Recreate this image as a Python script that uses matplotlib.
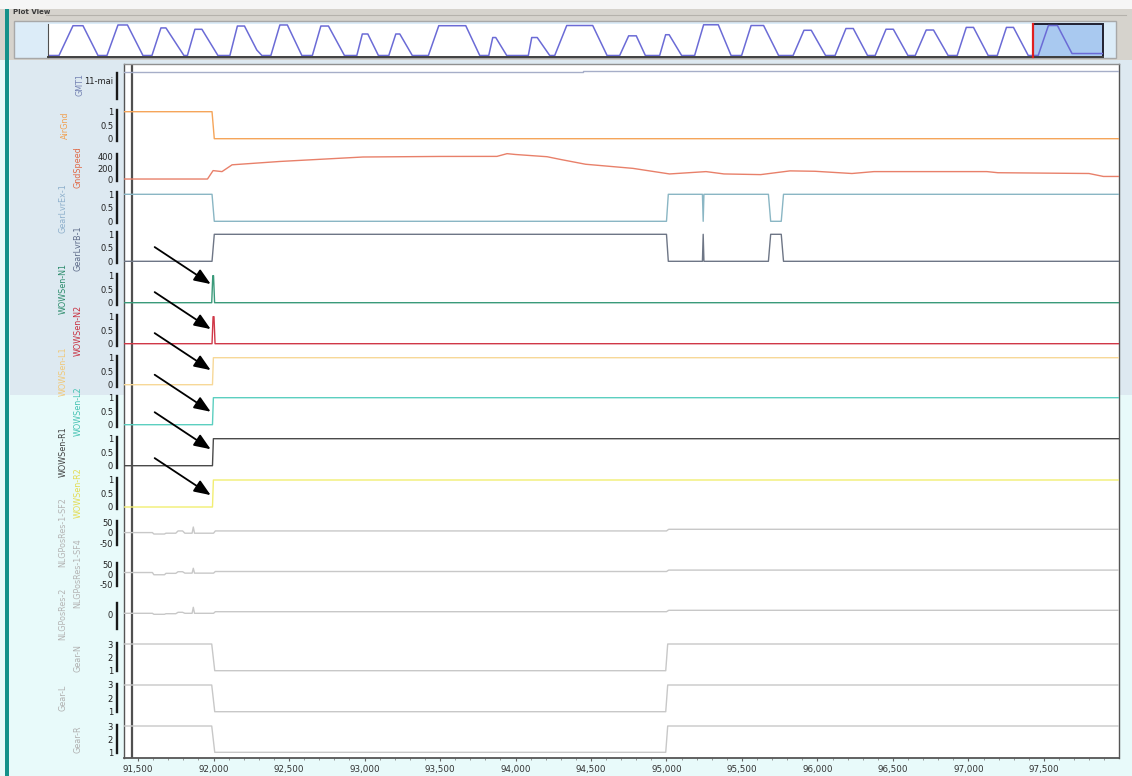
import matplotlib
matplotlib.use("Agg")
import matplotlib.pyplot as plt
from matplotlib.patches import Rectangle
from matplotlib.ticker import MultipleLocator, FuncFormatter

plt.rcParams['font.family'] = ['DejaVu Sans']

W, H, DPI = 1132, 776, 100

# ---------------- data ----------------
# visible time window
t_window = [91407, 97997]
x_ticks = [91500, 92000, 92500, 93000, 93500, 94000, 94500, 95000,
           95500, 96000, 96500, 97000, 97500]
cursor_t = 91458

# overview of the whole recording (ground speed)
overview_t = [
    -1279,
    -244, 1073, 2013, 3424,
    4270, 5305, 6198, 7656,
    8503, 9349, 9819, 11512,
    11841, 12547, 13205, 14710,
    15838, 16543, 17211, 18370, 18848,
    19694, 20541, 21246, 22610,
    23598, 24398, 25112, 26617,
    27783, 28300, 28817, 29814,
    30792, 31451, 31827, 33003,
    34517, 35495, 38034, 39351,
    40197, 40574, 40856, 41890,
    43921, 44242, 44759, 45935,
    46405, 47535, 49980, 51332,
    52518, 53364, 54079, 54935,
    56280, 56844, 57173, 58349,
    59570, 60417, 61799, 63003,
    63992, 64885, 66061, 67472,
    68836, 69861, 70548, 71893,
    72786, 73812, 74498, 75843,
    76558, 77583, 78269, 79642,
    80329, 81363, 82050, 83423,
    84279, 85135, 85812, 87195,
    88050, 88915, 89574, 90966,
    91900, 92865, 93711, 95084,
    98000,
]
overview_v = [
    0,
    0, 456, 456, 0,
    0, 467, 467, 0,
    0, 422, 422, 0,
    0, 401, 401, 0,
    0, 451, 451, 84, 0,
    0, 467, 467, 0,
    0, 451, 451, 0,
    0, 329, 329, 0,
    0, 329, 329, 0,
    0, 456, 456, 0,
    0, 275, 275, 0,
    0, 275, 275, 0,
    0, 459, 459, 0,
    0, 301, 301, 0,
    0, 318, 318, 0,
    0, 470, 470, 0,
    0, 459, 459, 0,
    0, 386, 386, 0,
    0, 413, 413, 0,
    0, 402, 402, 0,
    0, 390, 390, 0,
    0, 430, 430, 0,
    0, 430, 430, 0,
    0, 459, 459, 30,
    30,
]

gmt_t = [91400, 94450, 94450, 98000]
gmt_v = [11.45, 11.45, 11.52, 11.52]

airgnd_t = [91400, 91990, 92005, 98000]
airgnd_v = [1, 1, 0, 0]

gndspeed_t = [91400, 91960, 91997, 92056, 92123, 92440, 92990, 93500, 93877,
              93944, 94000, 94209, 94300, 94464, 94778, 95020, 95262, 95381,
              95624, 95818, 95983, 96228, 96374, 97122, 97195, 97798, 97894,
              98000]
gndspeed_v = [5, 5, 156, 138, 260, 320, 400, 410, 411,
              460, 445, 405, 355, 270, 196, 96, 138, 96,
              84, 151, 144, 104, 138, 138, 118, 104, 51,
              51]

lever_t = [91400, 91990, 92005, 95000, 95012, 95238, 95243, 95248,
           95675, 95690, 95760, 95775, 98000]
lever_ex_v = [1, 1, 0, 0, 1, 1, 0, 1, 1, 0, 0, 1, 1]
lever_b_v = [0, 0, 1, 1, 0, 0, 1, 0, 0, 1, 1, 0, 0]

wow_n1_t = [91400, 91988, 91995, 92000, 92007, 98000]
wow_n1_v = [0, 0, 1, 1, 0, 0]
wow_n2_t = [91400, 91990, 91997, 92003, 92010, 98000]
wow_n2_v = [0, 0, 1, 1, 0, 0]
wow_step_t = [91400, 91993, 91999, 98000]
wow_step_v = [0, 0, 1, 1]

nlg_t = [91400, 91595, 91605, 91675, 91685, 91750, 91765, 91795, 91810,
         91858, 91866, 91874, 92000, 92012, 95000, 95015, 98000]
nlg_sf2_v = [2, 2, -5, -5, -1, -1, 10, 10, -1, -1, 29, -1, -1, 10, 10, 18, 18]
nlg_sf4_v = [8, 8, -3, -3, 4, 4, 12, 12, 5, 5, 29, 5, 5, 13, 13, 20, 20]
nlg_res2_v = [5, 5, 0, 0, 3, 3, 10, 10, 5, 5, 35, 5, 5, 13, 13, 20, 20]

gear_t = [91400, 91988, 92008, 94995, 95008, 98000]
gear_v = [3, 3, 1, 1, 3, 3]

# arrows pointing at the touchdown transitions: (track, value at tip)
arrow_time = 91981
arrow_tracks = ['WOWSen-N1', 'WOWSen-N2', 'WOWSen-L1', 'WOWSen-L2',
                'WOWSen-R1', 'WOWSen-R2']
arrow_levels = [0.69, 0.54, 0.54, 0.48, 0.61, 0.44]

# ---------------- helpers ----------------
def fx(px):
    return px / W


def fy(py):
    return 1 - py / H


def rect(x0, y0, x1, y1):
    return [x0 / W, 1 - y1 / H, (x1 - x0) / W, (y1 - y0) / H]


def bg(x0, y0, x1, y1, color, z=-10, **kw):
    fig.add_artist(Rectangle((fx(x0), fy(y1)), (x1 - x0) / W, (y1 - y0) / H,
                             transform=fig.transFigure, facecolor=color,
                             zorder=z, **kw))


fig = plt.figure(figsize=(W / DPI, H / DPI), dpi=DPI, facecolor='#e8fafa')

# window chrome
bg(0, 0, W, 9, '#f6f6f6')
bg(0, 9, W, 60, '#d6d3cd')
bg(10, 60, W, 395, '#dde9f1')
bg(10, 395, W, H, '#e8fafa')
bg(5, 9, 9, H, '#14918a', z=-5)
bg(14, 21, 1116, 58, '#dcecf8', z=-8, edgecolor='#a8a8a8', linewidth=1)
fig.add_artist(plt.Line2D([fx(46), fx(1126)], [fy(15), fy(15)],
                          transform=fig.transFigure, color='#b5b2ac', lw=0.8,
                          zorder=-7))
fig.text(fx(13), fy(12), 'Plot View', fontsize=5, fontweight='bold',
         color='#3a3a3a', va='center', ha='left')

# ---------------- overview strip ----------------
ax_ov = fig.add_axes(rect(48, 24, 1103, 57))
ax_ov.set_facecolor('white')
ax_ov.set_xlim(-1279, 98000)
ax_ov.set_ylim(-23, 482)
ax_ov.set_xticks([])
ax_ov.set_yticks([])
for s in ['top', 'right']:
    ax_ov.spines[s].set_visible(False)
ax_ov.spines['left'].set_color('#505050')
ax_ov.spines['bottom'].set_color('#404040')
ax_ov.spines['bottom'].set_linewidth(1.4)
ax_ov.add_patch(Rectangle((t_window[0], -23), t_window[1] - t_window[0], 505,
                          facecolor='#a9c9f0', edgecolor='#202030', lw=1.4,
                          zorder=1, clip_on=False))
ax_ov.plot([t_window[0], t_window[0]], [-23, 482], color='#e02020', lw=1.6,
           zorder=3, clip_on=False)
ax_ov.plot(overview_t, overview_v, color='#6b6bd6', lw=1.1, zorder=2)

# ---------------- main plot frame ----------------
PX0, PX1, PY0, PY1 = 124, 1119, 64, 758
ax = fig.add_axes(rect(PX0, PY0, PX1, PY1))
ax.set_facecolor('white')
ax.set_xlim(*t_window)
ax.set_ylim(0, 1)
ax.set_yticks([])
ax.set_xticks(x_ticks)
ax.xaxis.set_minor_locator(MultipleLocator(100))
ax.xaxis.set_major_formatter(FuncFormatter(lambda v, p: f"{int(v):,}"))
ax.tick_params(axis='x', which='major', length=2.5, width=0.8,
               color='#666666', labelsize=6.3, labelcolor='#333333', pad=2.5)
ax.tick_params(axis='x', which='minor', length=1.5, width=0.6, color='#888888')
for s in ax.spines.values():
    s.set_color('#555555')
    s.set_linewidth(1.0)
ax.spines['bottom'].set_linewidth(1.3)
ax.spines['top'].set_color('#909090')
ax.axvline(cursor_t, color='#505050', lw=1.6)


def track(ref_top, ref_bot, v_top, v_bot, ticks, bounds, ticklabels=None,
          pad=10):
    scale = (ref_bot - ref_top) / (v_top - v_bot)
    a = fig.add_axes(rect(PX0, ref_top - pad, PX1, ref_bot + pad))
    a.patch.set_visible(False)
    a.set_xlim(*t_window)
    a.set_ylim(v_bot - pad / scale, v_top + pad / scale)
    a.set_xticks([])
    for s in ['top', 'right', 'bottom']:
        a.spines[s].set_visible(False)
    sp = a.spines['left']
    sp.set_position(('outward', 6.7 * 0.72))
    sp.set_linewidth(1.7)
    sp.set_color('#1a1a1a')
    sp.set_bounds(*bounds)
    a.set_yticks(ticks)
    if ticklabels is not None:
        a.set_yticklabels(ticklabels)
    else:
        a.set_yticklabels([f"{t:g}" for t in ticks])
    a.tick_params(axis='y', length=0, pad=3.0, labelsize=6,
                  labelcolor='#222222')
    return a


tracks = {}

def binary_track(name, top):
    tracks[name] = track(top, top + 27, 1, 0, [0, 0.5, 1], (-0.07, 1.07))


# GMT1
tracks['GMT1'] = track(71, 81, 11.5, 11.0, [11.0], (10.1, 11.4),
                       ticklabels=['11-mai'], pad=20)
tracks['GMT1'].plot(gmt_t, gmt_v, color='#a6aec8', lw=1.0)

binary_track('AirGnd', 111.7)
tracks['AirGnd'].plot(airgnd_t, airgnd_v, color='#f5a55a', lw=1.0)

tracks['GndSpeed'] = track(157, 179.3, 400, 0, [0, 200, 400], (-25, 454))
tracks['GndSpeed'].plot(gndspeed_t, gndspeed_v, color='#e8806a', lw=1.0)

binary_track('GearLvrEx-1', 194.3)
tracks['GearLvrEx-1'].plot(lever_t, lever_ex_v, color='#8ab6c4', lw=1.0)

binary_track('GearLvrB-1', 234.3)
tracks['GearLvrB-1'].plot(lever_t, lever_b_v, color='#6e7686', lw=1.0)

binary_track('WOWSen-N1', 275.7)
tracks['WOWSen-N1'].plot(wow_n1_t, wow_n1_v, color='#3a9a7a', lw=1.0)

binary_track('WOWSen-N2', 316.7)
tracks['WOWSen-N2'].plot(wow_n2_t, wow_n2_v, color='#d03848', lw=1.0)

binary_track('WOWSen-L1', 357.7)
tracks['WOWSen-L1'].plot(wow_step_t, wow_step_v, color='#f7d898', lw=1.0)

binary_track('WOWSen-L2', 397.7)
tracks['WOWSen-L2'].plot(wow_step_t, wow_step_v, color='#5ccfc0', lw=1.0)

binary_track('WOWSen-R1', 438.7)
tracks['WOWSen-R1'].plot(wow_step_t, wow_step_v, color='#4a4a4a', lw=1.0)

binary_track('WOWSen-R2', 480)
tracks['WOWSen-R2'].plot(wow_step_t, wow_step_v, color='#f2ee72', lw=1.0)

tracks['NLGPosRes-1-SF2'] = track(522.7, 543.3, 50, -50, [-50, 0, 50],
                                  (-57, 57))
tracks['NLGPosRes-1-SF2'].plot(nlg_t, nlg_sf2_v, color='#c8c8c8', lw=1.0)

tracks['NLGPosRes-1-SF4'] = track(564, 584.3, 50, -50, [-50, 0, 50], (-57, 57))
tracks['NLGPosRes-1-SF4'].plot(nlg_t, nlg_sf4_v, color='#c8c8c8', lw=1.0)

tracks['NLGPosRes-2'] = track(604.3, 624.3, 50, -50, [0], (-74, 56))
tracks['NLGPosRes-2'].plot(nlg_t, nlg_res2_v, color='#c8c8c8', lw=1.0)

tracks['Gear-N'] = track(644, 670.7, 3, 1, [1, 2, 3], (0.95, 3.05))
tracks['Gear-N'].plot(gear_t, gear_v, color='#c8c8c8', lw=1.0)

tracks['Gear-L'] = track(685, 711.7, 3, 1, [1, 2, 3], (0.95, 3.05))
tracks['Gear-L'].plot(gear_t, gear_v, color='#c8c8c8', lw=1.0)

tracks['Gear-R'] = track(726, 752.3, 3, 1, [1, 2, 3], (0.95, 3.05))
tracks['Gear-R'].plot(gear_t, gear_v, color='#c8c8c8', lw=1.0)

# rotated channel names
labels = [
    ('GMT1', 80, 85, '#7684b4'),
    ('AirGnd', 65, 125, '#f0a050'),
    ('GndSpeed', 78, 167, '#e06a48'),
    ('GearLvrEx-1', 63, 208, '#8eb0cc'),
    ('GearLvrB-1', 78, 248, '#5e6c8a'),
    ('WOWSen-N1', 63, 289, '#2c8c6c'),
    ('WOWSen-N2', 78, 330, '#c83040'),
    ('WOWSen-L1', 63, 371, '#f0c878'),
    ('WOWSen-L2', 78, 411, '#44c2b2'),
    ('WOWSen-R1', 63, 452, '#404040'),
    ('WOWSen-R2', 78, 493, '#e4dc50'),
    ('NLGPosRes-1-SF2', 63, 532, '#b4b4b4'),
    ('NLGPosRes-1-SF4', 78, 573, '#b4b4b4'),
    ('NLGPosRes-2', 63, 614, '#b4b4b4'),
    ('Gear-N', 78, 658, '#b0b0b0'),
    ('Gear-L', 63, 698, '#b0b0b0'),
    ('Gear-R', 78, 739, '#b0b0b0'),
]
for name, x, y, c in labels:
    fig.text(fx(x), fy(y), name, rotation=90, ha='center', va='center',
             fontsize=5.8, color=c)

# arrows
for name, lvl in zip(arrow_tracks, arrow_levels):
    tracks[name].annotate('', xy=(arrow_time, lvl), xytext=(-56, 37),
                          textcoords='offset pixels', annotation_clip=False,
                          arrowprops=dict(arrowstyle='-|>,head_length=1.0,head_width=0.4',
                                          mutation_scale=10, color='black',
                                          lw=1.3, shrinkA=0, shrinkB=0),
                          zorder=20)

fig.savefig('out.png', dpi=DPI, facecolor=fig.get_facecolor())
